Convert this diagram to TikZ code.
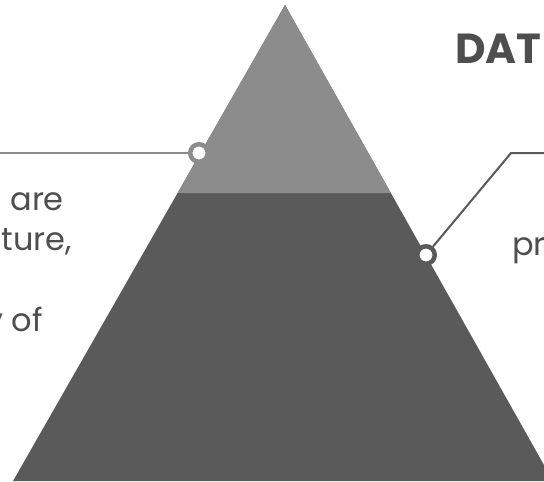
\documentclass[tikz,border=0pt]{standalone}
\usepackage{fontspec}
\setmainfont{Poppins}
\usetikzlibrary{positioning}
\definecolor{pyrlight}{RGB}{140,140,140}
\definecolor{pyrdark}{RGB}{90,90,90}
\definecolor{pyrtext}{RGB}{78,78,78}

\begin{document}
\begin{tikzpicture}[x=1pt,y=-1pt,line cap=round,line join=round,
 ring/.style={circle,draw=#1,line width=4.5pt,fill=white,minimum size=17.5pt,inner sep=0pt},
 lbl/.style={font=\fontsize{32}{40}\selectfont,text=pyrtext,inner sep=0pt},
 lead/.style={draw=#1,line width=2pt}]
\useasboundingbox (0,0) rectangle (544,482);
\clip (0,0) rectangle (544,482);
% pyramid, apex (285,5), base y=481, light cap down to y=193
\coordinate (apex) at (285,5);
\coordinate (bl) at (13,481);
\coordinate (br) at (553,481);
\coordinate (ml) at (177.6,193);
\coordinate (mr) at (390.8,193);
\fill[pyrdark] (apex)--(bl)--(br)--cycle;
\fill[pyrlight] (apex)--(ml)--(mr)--cycle;
% markers on the sides
\node[ring=pyrlight] (lc) at (199,153) {};
\node[ring=pyrdark] (rc) at (426,255) {};
\coordinate (lend) at (-6,153);
\coordinate (rbend) at (511,153);
\coordinate (rend) at (552,153);
\draw[lead=pyrlight] (lend)--(lc);
\draw[lead=pyrdark] (rc)--(rbend)--(rend);
% texts
\node[font=\bfseries\fontsize{42}{42}\selectfont,text=pyrtext,anchor=base west,inner sep=0pt] (title) at (455,63) {DAT};
\node[lbl,anchor=base east] (la) at (64,210) {n are};
\node[lbl,anchor=base east] (lb) at (72,250) {ture,};
\node[lbl,anchor=base east] (lcx) at (43,331) {y of};
\node[lbl,anchor=base west] (ra) at (512,255) {pr};
\end{tikzpicture}
\end{document}
